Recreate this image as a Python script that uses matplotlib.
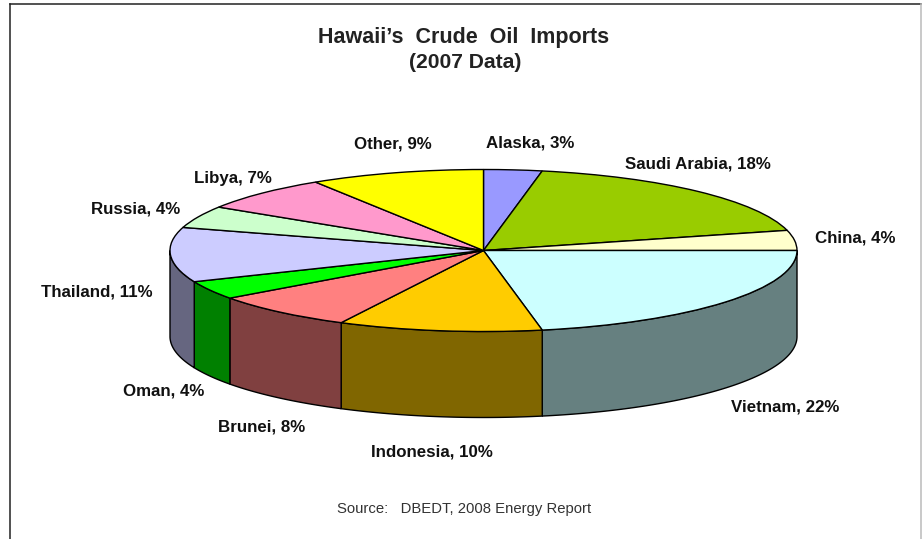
import numpy as np
import matplotlib
matplotlib.use('Agg')
import matplotlib.pyplot as plt

# clockwise from 12 o'clock
names = ['Alaska', 'Saudi Arabia', 'China', 'Vietnam', 'Indonesia', 'Brunei',
         'Oman', 'Thailand', 'Russia', 'Libya', 'Other']
# slice sizes, the labels carry the rounded figures
shares = [3, 18, 4, 22, 10.5, 7.5, 3.7, 10.9, 4.4, 7, 9]
label_pct = [3, 18, 4, 22, 10, 8, 4, 11, 4, 7, 9]
top_colors = ['#9999ff', '#99cc00', '#ffffcc', '#ccffff', '#ffcc00', '#ff8080',
              '#00ff00', '#ccccff', '#ccffcc', '#ff99cc', '#ffff00']
side_colors = ['#666699', '#668800', '#888866', '#668080', '#806600', '#804040',
               '#008000', '#666680', '#668066', '#804d66', '#808000']
# pixel centre of each label
label_pos = [(530, 143), (698, 164), (855, 238), (785, 407), (432, 452), (262, 427),
             (164, 391), (97, 292), (136, 209), (233, 178), (393, 144)]

W, H = 922, 539
cx, cy, rx, ry, depth = 483.5, 250.5, 313.5, 81, 86

plt.rcParams['font.family'] = ['Liberation Sans', 'DejaVu Sans']
fig = plt.figure(figsize=(W / 100, H / 100), dpi=100)
ax = fig.add_axes([0, 0, 1, 1])

# unit circle squashed by the axes limits gives the tilted top
ax.pie(shares, colors=top_colors, startangle=90, counterclock=False, radius=1,
       wedgeprops={'edgecolor': 'black', 'linewidth': 1, 'zorder': 3})
ax.set_aspect('auto')
ax.set_xlim((0 - cx) / rx, (W - cx) / rx)
ax.set_ylim((cy - H) / ry, cy / ry)
ax.axis('on')
ax.set_xticks([])
ax.set_yticks([])
for s in ax.spines.values():
    s.set_visible(False)

# side walls, only the front half shows
d = depth / ry
edges = np.cumsum([0] + shares) / sum(shares) * 360
for i in range(len(shares)):
    a, b = max(edges[i], 90), min(edges[i + 1], 270)
    if b <= a:
        continue
    t = np.radians(np.linspace(a, b, 80))
    x, y = np.sin(t), np.cos(t)
    ax.fill(np.r_[x, x[::-1]], np.r_[y, y[::-1] - d], facecolor=side_colors[i],
            edgecolor='black', linewidth=1, zorder=2)

for name, pct, (px, py) in zip(names, label_pct, label_pos):
    fig.text(px / W, 1 - py / H, f'{name}, {pct}%', ha='center', va='center',
             fontsize=12.2, fontweight='bold', color='#111111')

fig.text(463.5 / W, 1 - 38 / H, "Hawaii\u2019s  Crude  Oil  Imports", ha='center', va='center',
         fontsize=15.5, fontweight='bold', color='#222222')
fig.text(465.5 / W, 1 - 63 / H, '(2007 Data)', ha='center', va='center',
         fontsize=15.2, fontweight='bold', color='#222222')
fig.text(464.5 / W, 1 - 509 / H, 'Source:   DBEDT, 2008 Energy Report', ha='center', va='center',
         fontsize=10.7, color='#333333')

# chart frame, open at the bottom
fig.add_artist(plt.Line2D([9.5 / W, 9.5 / W], [0, 1 - 3.5 / H], color='#222222', lw=1.1))
fig.add_artist(plt.Line2D([9.5 / W, 921 / W], [1 - 3.5 / H, 1 - 3.5 / H], color='#222222', lw=1.1))
fig.add_artist(plt.Line2D([921 / W, 921 / W], [0, 1 - 3.5 / H], color='#bbbbbb', lw=1.1))

fig.savefig('out.png', dpi=100)
